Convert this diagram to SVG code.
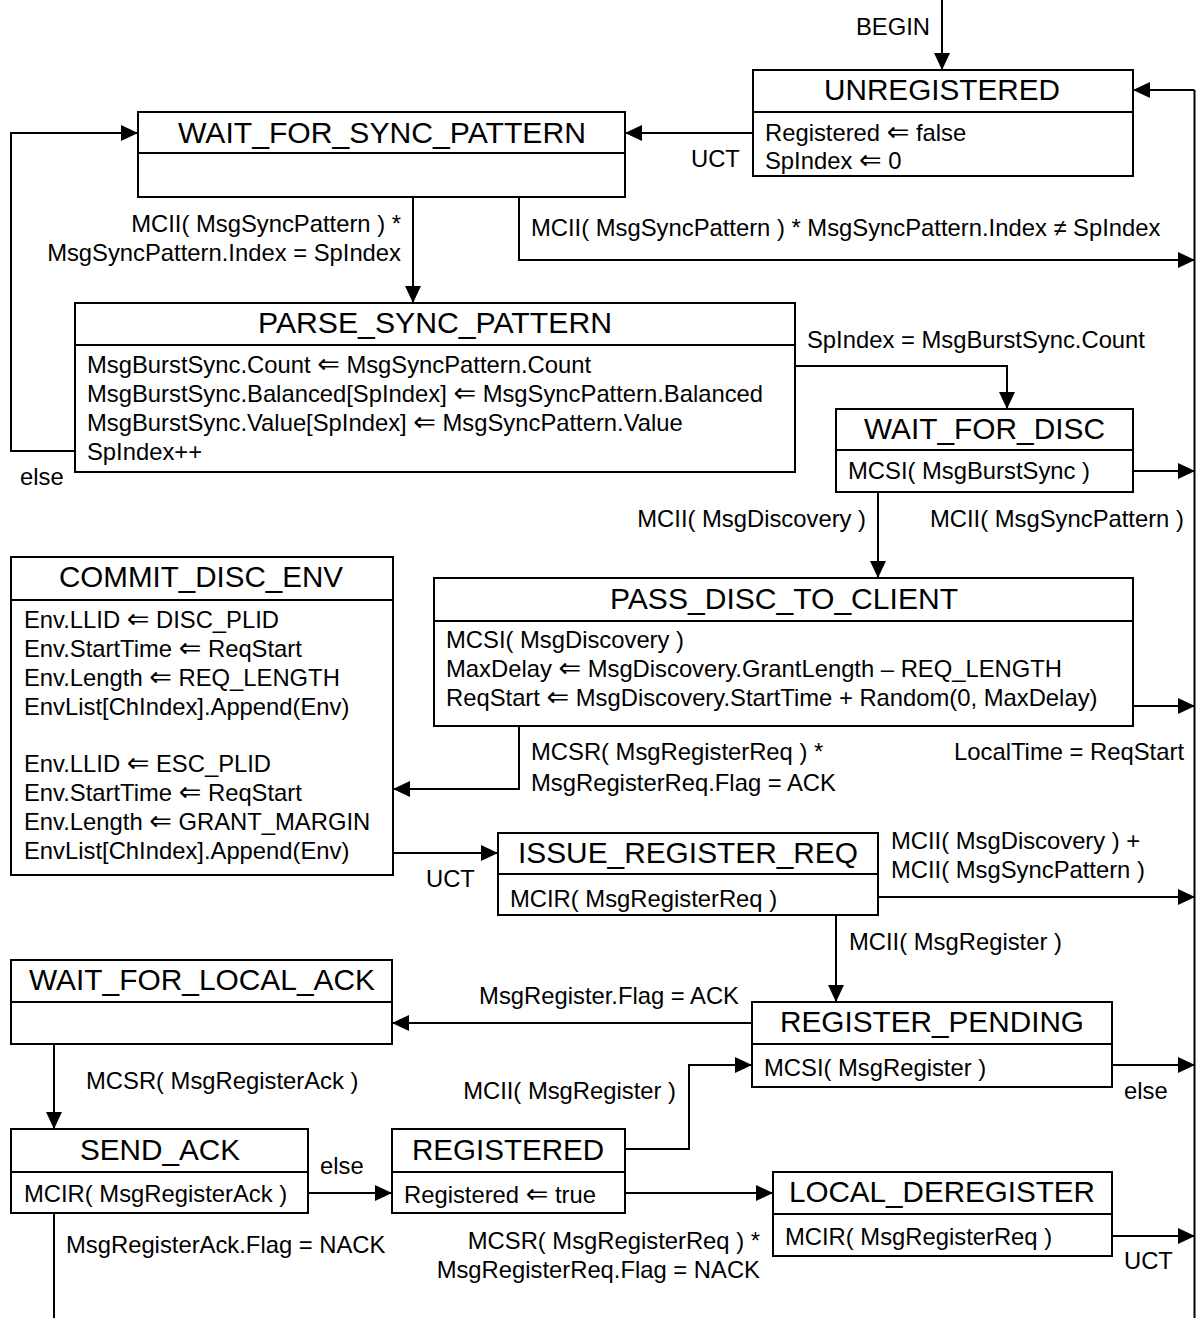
<svg xmlns="http://www.w3.org/2000/svg" width="1196" height="1318" viewBox="0 0 1196 1318">
<style>
text{font-family:"Liberation Sans",Arial,"DejaVu Sans",sans-serif;fill:#000}
.t{font-size:29px;text-anchor:middle}
.b{font-size:23.8px}
.r{text-anchor:end}
.g{font-family:"DejaVu Sans",sans-serif;font-size:27px}
.box{fill:#fff;stroke:#000;stroke-width:2}
.ln{fill:none;stroke:#000;stroke-width:2}
.c{fill:none;stroke:#000;stroke-width:2}
.a{marker-end:url(#ah)}
</style>
<defs>
<marker id="ah" markerUnits="userSpaceOnUse" markerWidth="17" markerHeight="16" refX="17" refY="8" orient="auto">
<path d="M0,0 L17,8 L0,16 z" fill="#000"/>
</marker>
</defs>
<rect width="1196" height="1318" fill="#fff"/>
<g id="connectors">
<line class="c a" x1="942" y1="0" x2="942" y2="70"/>
<line class="c" x1="1194.5" y1="90" x2="1194.5" y2="1318"/>
<line class="c a" x1="1194.5" y1="90" x2="1133" y2="90"/>
<line class="c a" x1="753" y1="133" x2="625" y2="133"/>
<polyline class="c a" points="75,451 11,451 11,133 138,133"/>
<line class="c a" x1="413" y1="197" x2="413" y2="303"/>
<polyline class="c a" points="519,197 519,260 1195,260"/>
<polyline class="c a" points="795,366 1007,366 1007,409"/>
<line class="c a" x1="1133" y1="471" x2="1195" y2="471"/>
<line class="c a" x1="878" y1="492" x2="878" y2="578"/>
<line class="c a" x1="1133" y1="706" x2="1195" y2="706"/>
<polyline class="c a" points="519,726 519,789 393,789"/>
<line class="c a" x1="393" y1="853" x2="498" y2="853"/>
<line class="c a" x1="878" y1="897" x2="1195" y2="897"/>
<line class="c a" x1="836" y1="915" x2="836" y2="1002"/>
<line class="c a" x1="752" y1="1023" x2="392" y2="1023"/>
<line class="c a" x1="1112" y1="1065" x2="1195" y2="1065"/>
<line class="c a" x1="54" y1="1044" x2="54" y2="1129"/>
<line class="c a" x1="308" y1="1193" x2="392" y2="1193"/>
<line class="c" x1="54" y1="1213" x2="54" y2="1318"/>
<polyline class="c a" points="625,1149 689,1149 689,1065 752,1065"/>
<line class="c a" x1="625" y1="1193" x2="773" y2="1193"/>
<line class="c a" x1="1112" y1="1236" x2="1195" y2="1236"/>
<text class="b r" x="930" y="35">BEGIN</text>
<text class="b" x="691" y="167">UCT</text>
<text class="b" x="20" y="485">else</text>
<text class="b r" x="401" y="232">MCII( MsgSyncPattern ) *</text>
<text class="b r" x="401" y="261">MsgSyncPattern.Index = SpIndex</text>
<text class="b" x="531" y="236">MCII( MsgSyncPattern ) * MsgSyncPattern.Index ≠ SpIndex</text>
<text class="b" x="807" y="348">SpIndex = MsgBurstSync.Count</text>
<text class="b r" x="866" y="527">MCII( MsgDiscovery )</text>
<text class="b" x="930" y="527">MCII( MsgSyncPattern )</text>
<text class="b r" x="1184" y="760">LocalTime = ReqStart</text>
<text class="b" x="531" y="760">MCSR( MsgRegisterReq ) *</text>
<text class="b" x="531" y="791">MsgRegisterReq.Flag = ACK</text>
<text class="b" x="426" y="887">UCT</text>
<text class="b" x="891" y="849">MCII( MsgDiscovery ) +</text>
<text class="b" x="891" y="878">MCII( MsgSyncPattern )</text>
<text class="b" x="849" y="950">MCII( MsgRegister )</text>
<text class="b r" x="739" y="1004">MsgRegister.Flag = ACK</text>
<text class="b" x="1124" y="1099">else</text>
<text class="b" x="86" y="1089">MCSR( MsgRegisterAck )</text>
<text class="b r" x="676" y="1099">MCII( MsgRegister )</text>
<text class="b" x="320" y="1174">else</text>
<text class="b" x="66" y="1253">MsgRegisterAck.Flag = NACK</text>
<text class="b r" x="760" y="1249">MCSR( MsgRegisterReq ) *</text>
<text class="b r" x="760" y="1278">MsgRegisterReq.Flag = NACK</text>
<text class="b" x="1124" y="1269">UCT</text>
</g>
<g id="UNREGISTERED">
<rect class="box" x="753" y="70" width="380" height="106"/>
<line class="ln" x1="753" y1="112" x2="1133" y2="112"/>
<text class="t" x="942" y="100" textLength="236" lengthAdjust="spacingAndGlyphs">UNREGISTERED</text>
<text class="b" x="765" y="141">Registered <tspan class="g">⇐</tspan> false</text>
<text class="b" x="765" y="169">SpIndex <tspan class="g">⇐</tspan> 0</text>
</g>
<g id="WAIT_FOR_SYNC_PATTERN">
<rect class="box" x="138" y="112" width="487" height="85"/>
<line class="ln" x1="138" y1="153" x2="625" y2="153"/>
<text class="t" x="382" y="143" textLength="408" lengthAdjust="spacingAndGlyphs">WAIT_FOR_SYNC_PATTERN</text>
</g>
<g id="PARSE_SYNC_PATTERN">
<rect class="box" x="75" y="303" width="720" height="169"/>
<line class="ln" x1="75" y1="345" x2="795" y2="345"/>
<text class="t" x="435" y="333" textLength="354" lengthAdjust="spacingAndGlyphs">PARSE_SYNC_PATTERN</text>
<text class="b" x="87" y="373">MsgBurstSync.Count <tspan class="g">⇐</tspan> MsgSyncPattern.Count</text>
<text class="b" x="87" y="402">MsgBurstSync.Balanced[SpIndex] <tspan class="g">⇐</tspan> MsgSyncPattern.Balanced</text>
<text class="b" x="87" y="431">MsgBurstSync.Value[SpIndex] <tspan class="g">⇐</tspan> MsgSyncPattern.Value</text>
<text class="b" x="87" y="460">SpIndex++</text>
</g>
<g id="WAIT_FOR_DISC">
<rect class="box" x="836" y="409" width="297" height="83"/>
<line class="ln" x1="836" y1="450" x2="1133" y2="450"/>
<text class="t" x="984.5" y="439" textLength="241" lengthAdjust="spacingAndGlyphs">WAIT_FOR_DISC</text>
<text class="b" x="848" y="479">MCSI( MsgBurstSync )</text>
</g>
<g id="COMMIT_DISC_ENV">
<rect class="box" x="11" y="557" width="382" height="318"/>
<line class="ln" x1="11" y1="600" x2="393" y2="600"/>
<text class="t" x="201" y="587" textLength="284" lengthAdjust="spacingAndGlyphs">COMMIT_DISC_ENV</text>
<text class="b" x="24" y="628">Env.LLID <tspan class="g">⇐</tspan> DISC_PLID</text>
<text class="b" x="24" y="657">Env.StartTime <tspan class="g">⇐</tspan> ReqStart</text>
<text class="b" x="24" y="686">Env.Length <tspan class="g">⇐</tspan> REQ_LENGTH</text>
<text class="b" x="24" y="715">EnvList[ChIndex].Append(Env)</text>
<text class="b" x="24" y="772">Env.LLID <tspan class="g">⇐</tspan> ESC_PLID</text>
<text class="b" x="24" y="801">Env.StartTime <tspan class="g">⇐</tspan> ReqStart</text>
<text class="b" x="24" y="830">Env.Length <tspan class="g">⇐</tspan> GRANT_MARGIN</text>
<text class="b" x="24" y="859">EnvList[ChIndex].Append(Env)</text>
</g>
<g id="PASS_DISC_TO_CLIENT">
<rect class="box" x="434" y="578" width="699" height="148"/>
<line class="ln" x1="434" y1="621" x2="1133" y2="621"/>
<text class="t" x="784" y="609" textLength="348" lengthAdjust="spacingAndGlyphs">PASS_DISC_TO_CLIENT</text>
<text class="b" x="446" y="648">MCSI( MsgDiscovery )</text>
<text class="b" x="446" y="677">MaxDelay <tspan class="g">⇐</tspan> MsgDiscovery.GrantLength – REQ_LENGTH</text>
<text class="b" x="446" y="706">ReqStart <tspan class="g">⇐</tspan> MsgDiscovery.StartTime + Random(0, MaxDelay)</text>
</g>
<g id="ISSUE_REGISTER_REQ">
<rect class="box" x="498" y="833" width="380" height="82"/>
<line class="ln" x1="498" y1="874" x2="878" y2="874"/>
<text class="t" x="688" y="863" textLength="340" lengthAdjust="spacingAndGlyphs">ISSUE_REGISTER_REQ</text>
<text class="b" x="510" y="907">MCIR( MsgRegisterReq )</text>
</g>
<g id="WAIT_FOR_LOCAL_ACK">
<rect class="box" x="11" y="960" width="381" height="84"/>
<line class="ln" x1="11" y1="1002" x2="392" y2="1002"/>
<text class="t" x="202" y="990" textLength="346" lengthAdjust="spacingAndGlyphs">WAIT_FOR_LOCAL_ACK</text>
</g>
<g id="REGISTER_PENDING">
<rect class="box" x="752" y="1002" width="360" height="85"/>
<line class="ln" x1="752" y1="1044" x2="1112" y2="1044"/>
<text class="t" x="932" y="1032" textLength="304" lengthAdjust="spacingAndGlyphs">REGISTER_PENDING</text>
<text class="b" x="764" y="1076">MCSI( MsgRegister )</text>
</g>
<g id="SEND_ACK">
<rect class="box" x="11" y="1129" width="297" height="84"/>
<line class="ln" x1="11" y1="1172" x2="308" y2="1172"/>
<text class="t" x="160" y="1160" textLength="160" lengthAdjust="spacingAndGlyphs">SEND_ACK</text>
<text class="b" x="24" y="1202">MCIR( MsgRegisterAck )</text>
</g>
<g id="REGISTERED">
<rect class="box" x="392" y="1129" width="233" height="84"/>
<line class="ln" x1="392" y1="1172" x2="625" y2="1172"/>
<text class="t" x="508" y="1160" textLength="192" lengthAdjust="spacingAndGlyphs">REGISTERED</text>
<text class="b" x="404" y="1203">Registered <tspan class="g">⇐</tspan> true</text>
</g>
<g id="LOCAL_DEREGISTER">
<rect class="box" x="773" y="1172" width="339" height="84"/>
<line class="ln" x1="773" y1="1214" x2="1112" y2="1214"/>
<text class="t" x="942" y="1202" textLength="306" lengthAdjust="spacingAndGlyphs">LOCAL_DEREGISTER</text>
<text class="b" x="785" y="1245">MCIR( MsgRegisterReq )</text>
</g>
</svg>
